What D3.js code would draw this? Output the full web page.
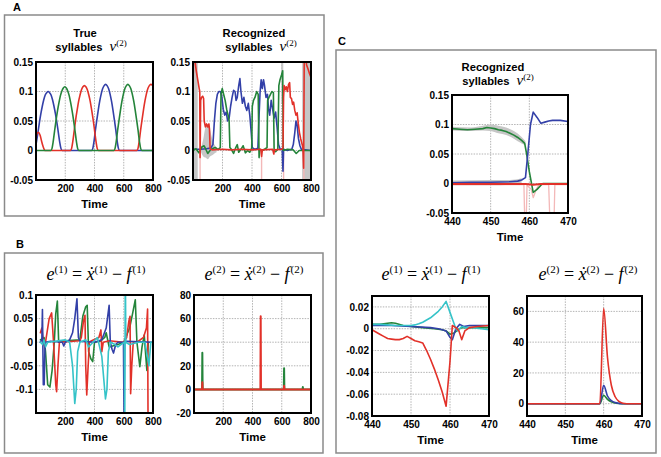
<!DOCTYPE html>
<html><head><meta charset="utf-8">
<script src="https://cdn.jsdelivr.net/npm/d3@7"></script>
<style>body{margin:0;background:#fff}svg{display:block}</style>
</head><body>
<script>
// ---------- DATA ----------
// Panel A, left: true syllables v(2)  [time, value]
const a1Blue = [[0,0.01],[13,0.03],[23,0.047],[33,0.062],[43,0.075],[53,0.086],[63,0.094],[73,0.098],[83,0.1],[93,0.098],[103,0.094],[113,0.086],[123,0.075],[133,0.062],[143,0.047],[153,0.03],[163,0.013],[170,0.004],[178,0],[381,0],[389,0.004],[396,0.014],[406,0.034],[416,0.052],[426,0.069],[436,0.084],[446,0.096],[456,0.105],[466,0.11],[476,0.112],[486,0.11],[496,0.105],[506,0.096],[516,0.084],[526,0.069],[536,0.052],[546,0.034],[556,0.014],[563,0.004],[571,0],[800,0]];
const a1Green = [[0,0],[102,0],[110,0.004],[117,0.014],[127,0.033],[137,0.051],[147,0.067],[157,0.081],[167,0.093],[177,0.101],[187,0.106],[197,0.108],[207,0.106],[217,0.101],[227,0.093],[237,0.081],[247,0.067],[257,0.051],[267,0.033],[277,0.014],[284,0.004],[292,0],[533,0],[541,0.004],[548,0.014],[558,0.034],[568,0.052],[578,0.069],[588,0.084],[598,0.096],[608,0.105],[618,0.11],[628,0.112],[638,0.11],[648,0.105],[658,0.096],[668,0.084],[678,0.069],[688,0.052],[698,0.034],[708,0.014],[715,0.004],[723,0],[800,0]];
const a1Red = [[0,0.023],[8,0.029],[18,0.031],[28,0.026],[38,0.016],[48,0.007],[58,0.001],[65,0],[236,0],[244,0.004],[251,0.014],[261,0.033],[271,0.052],[281,0.068],[291,0.083],[301,0.094],[311,0.103],[321,0.108],[331,0.11],[341,0.108],[351,0.103],[361,0.094],[371,0.083],[381,0.068],[391,0.052],[401,0.033],[411,0.014],[418,0.004],[426,0],[690,0],[698,0.004],[705,0.014],[715,0.034],[725,0.052],[735,0.069],[745,0.084],[755,0.096],[765,0.105],[775,0.11],[785,0.112],[795,0.111],[800,0.11]];

// Panel A, right: recognized syllables v(2)
const a2Red = [[0,0.088],[3,0.16],[12,0.155],[22,0.135],[32,0.12],[42,0.105],[46,0.1],[48,-0.012],[52,0.085],[58,0.09],[66,0.092],[72,0.088],[76,0.05],[84,0.04],[92,0.045],[100,0.04],[108,0.045],[112,0.035],[116,0.003],[130,0.001],[200,0.002],[260,0.001],[330,0.002],[400,0.001],[460,0.002],[465,-0.01],[470,0.001],[540,0.002],[548,-0.006],[552,0.001],[600,0.002],[610,0.004],[614,0.09],[618,0.11],[625,0.103],[632,0.108],[640,0.1],[648,0.112],[655,0.115],[660,0.09],[668,0.088],[675,0.078],[682,0.082],[690,0.068],[698,0.06],[706,0.064],[714,0.045],[722,0.03],[730,0.02],[738,0.012],[745,0.005],[750,-0.03],[754,0.15],[760,0.17],[770,0.145],[780,0.138],[790,0.13],[800,0.124]];
const a2Blue = [[0,0.002],[50,0.002],[90,0.003],[120,0.004],[135,0.01],[145,0.05],[155,0.08],[165,0.095],[175,0.1],[185,0.1],[195,0.092],[205,0.07],[215,0.06],[225,0.065],[235,0.05],[245,0.055],[255,0.075],[265,0.09],[275,0.102],[285,0.1],[292,0.085],[300,0.09],[310,0.11],[318,0.122],[325,0.1],[335,0.08],[345,0.09],[355,0.075],[365,0.068],[375,0.08],[385,0.06],[395,0.03],[402,0.005],[420,0.002],[440,0.004],[448,0.06],[455,0.1],[462,0.12],[470,0.105],[478,0.12],[485,0.11],[495,0.09],[505,0.095],[512,0.07],[520,0.06],[530,0.085],[540,0.07],[550,0.055],[560,0.065],[570,0.04],[580,0.01],[590,0.003],[605,0.002],[610,-0.035],[614,0.002],[640,0],[670,0.002],[680,0.01],[690,0.03],[698,0.05],[705,0.045],[715,0.02],[725,0.008],[735,0.002],[800,0]];
const a2Green = [[0,0],[20,0.003],[40,-0.004],[60,0.006],[75,0.008],[85,0.003],[100,-0.005],[115,0],[130,0.003],[150,0.005],[170,0.002],[185,0.005],[190,0.095],[198,0.105],[208,0.095],[218,0.085],[228,0.07],[238,0.06],[245,0.05],[250,0.005],[260,0.002],[275,-0.005],[290,0.005],[300,0.01],[310,-0.003],[325,0.002],[340,0.008],[355,-0.004],[370,0],[385,-0.003],[398,0.004],[402,0.075],[410,0.085],[420,0.09],[432,0.1],[442,0.095],[448,-0.012],[452,0.002],[470,0],[490,0.003],[502,0.005],[506,0.085],[515,0.09],[525,0.095],[535,0.1],[545,0.098],[550,0],[560,-0.002],[575,0.002],[582,0.11],[590,0.12],[600,0.128],[608,0.135],[612,0],[640,0.002],[680,0.001],[700,-0.005],[720,0],[800,0]];
const a2PinkSpikes = [48, 465, 614, 752];
// confidence bands [time, low, high]
const a2BandLeft = [[0,-0.05,0.15],[32,-0.05,0.15]];
const a2BandMid = [[55,-0.003,0.005],[70,-0.01,0.02],[85,-0.012,0.04],[100,-0.015,0.045],[115,-0.01,0.035],[130,-0.008,0.02],[145,-0.005,0.01],[160,-0.003,0.005]];
const a2BandTop = [[598,0.08,0.15],[612,0.08,0.15]];
const a2BandRight = [[740,-0.05,0.15],[800,-0.05,0.15]];

// Panel B, left: e(1)
const b1Blue = [[30,0],[40,0.005],[44,0.069],[50,-0.09],[56,-0.09],[62,0],[100,0.002],[180,0],[190,-0.008],[200,0],[230,0.005],[250,0.02],[265,0.05],[280,0.092],[290,0.01],[300,0.002],[400,0],[450,0.005],[480,0.03],[500,0.078],[508,0],[520,-0.015],[530,-0.023],[545,-0.005],[560,0],[598,0],[602,-0.16],[606,0],[620,0.002],[800,0]];
const b1Green = [[30,0.005],[55,0.01],[65,-0.02],[80,-0.09],[95,-0.095],[110,-0.06],[125,0],[135,0.06],[146,0.087],[155,0],[165,0],[200,0.003],[300,0.005],[320,0.055],[340,0.075],[350,0.078],[360,-0.02],[375,-0.035],[388,-0.041],[400,0],[440,0.002],[470,0.01],[480,0.02],[500,-0.01],[560,-0.005],[600,0],[640,0.03],[660,0.06],[679,0.09],[690,0],[710,-0.052],[725,-0.01],[740,0.015],[758,-0.06],[768,0]];
const b1Red = [[30,0.02],[40,0.03],[50,0],[60,-0.01],[75,0.02],[90,0.05],[107,0.062],[120,0],[135,-0.09],[141,-0.105],[150,-0.05],[160,0],[300,0.003],[310,0.01],[325,0.045],[335,0.057],[340,-0.05],[347,-0.112],[355,-0.06],[365,0],[380,0.003],[430,0.01],[444,0.026],[450,-0.02],[460,0],[500,0.003],[600,0],[620,0.01],[635,0.045],[643,0.055],[647,-0.109],[655,-0.05],[665,0],[700,0.002],[735,0.01],[755,0.03],[763,0.07],[766,-0.16]];
const b1Cyan = [[30,0],[45,-0.005],[55,0.005],[65,-0.01],[80,0],[200,0.005],[230,0],[250,-0.05],[265,-0.13],[275,-0.1],[285,-0.02],[300,0],[340,0.005],[360,-0.01],[420,0.01],[450,-0.03],[475,-0.12],[485,-0.1],[495,-0.02],[510,0],[540,-0.005],[560,-0.01],[604,0],[607,-0.16],[611,0.16],[614,0],[640,-0.005],[700,0],[745,0],[772,-0.05],[785,0],[800,0]];

// Panel B, right: e(2)
const b2Green = [[0,0],[55,0],[57,31],[59,0],[614,0],[616,18],[618,0],[742,0],[744,2],[746,0],[800,0]];
const b2Red = [[0,0],[55,0],[57,6],[59,0],[454,0],[456,62],[458,0],[614,0],[616,3],[618,0],[800,0]];

// Panel C, top: recognized syllables (zoom 440-470)
const c1Green = [[440,0.093],[442,0.092],[444,0.091],[446,0.092],[448,0.093],[449,0.095],[450,0.094],[451,0.093],[452,0.091],[453,0.09],[454,0.088],[455,0.085],[456,0.082],[457,0.078],[458,0.073],[458.8,0.068],[459.3,0.05],[460,0.02],[461,-0.015],[462,-0.01],[463,-0.003],[463.5,0],[470,0]];
const c1Blue = [[440,0.001],[445,0.002],[450,0.002],[455,0.003],[457,0.004],[458,0.006],[459,0.01],[459.6,0.05],[460.3,0.1],[461,0.121],[462,0.112],[463,0.102],[464,0.104],[465,0.106],[466,0.107],[468,0.107],[470,0.105]];
const c1Red = [[440,-0.001],[450,-0.001],[459,-0.001],[461,-0.002],[463,-0.001],[470,-0.001]];
const c1Pink = [[440,-0.002],[458.6,-0.002],[458.8,-0.06],[459.2,-0.06],[459.4,-0.003],[460.5,-0.01],[461,-0.024],[461.8,-0.01],[462.5,-0.002],[465,-0.002],[465.3,-0.06],[466.4,-0.06],[466.6,-0.002],[470,-0.002]];
const c1GreenBand = [[440,0.09,0.096],[445,0.089,0.095],[448,0.09,0.098],[450,0.089,0.1],[452,0.085,0.098],[454,0.082,0.095],[456,0.076,0.089],[458,0.068,0.079],[459,0.065,0.072]];
const c1BlueBand = [[440,-0.003,0.005],[450,-0.003,0.006],[455,-0.002,0.006],[458,0.001,0.009]];

// Panel C, bottom left: e(1)
const c2Cyan = [[440,0.004],[442,0.004],[444,0.0035],[446,0.003],[448,0.003],[450,0.003],[451,0.0035],[452,0.0045],[453,0.006],[454,0.008],[455,0.01],[456,0.013],[457,0.016],[458,0.02],[459,0.025],[460,0.015],[461,0.005],[461.5,0],[462,-0.002],[463,0.002],[464,0.001],[466,0.001],[468,0],[470,-0.001]];
const c2Red = [[440,-0.001],[441,-0.003],[442,-0.005],[443,-0.007],[444,-0.009],[445,-0.0095],[446,-0.01],[447,-0.01],[448,-0.009],[449,-0.007],[450,-0.009],[451,-0.011],[452,-0.012],[453,-0.013],[454,-0.02],[455,-0.028],[456,-0.037],[457,-0.047],[458,-0.058],[459,-0.071],[460,-0.03],[460.6,0.003],[461.5,0.001],[462.3,-0.002],[463,-0.01],[463.8,-0.002],[465,0.001],[467,0.002],[470,0.003]];
const c2Blue = [[440,0.003],[445,0.003],[450,0.002],[455,0.001],[457,0],[458,-0.001],[459,-0.002],[460,-0.008],[460.6,-0.01],[461.5,0],[462.5,0.004],[463.5,0.002],[465,0.003],[470,0.003]];
const c2Green = [[440,0.004],[442,0.004],[444,0.005],[445,0.0055],[446,0.005],[448,0.003],[450,0.002],[453,0.001],[456,0],[458,-0.001],[459,-0.002],[460,-0.005],[461,-0.004],[462,-0.001],[463,0.001],[465,0.001],[470,0.001]];

// Panel C, bottom right: e(2)
const c3Red = [[440,0],[459,0],[460,62],[461,30],[462,12],[463,4.5],[464,1.5],[465,0.3],[466,0],[470,0]];
const c3Blue = [[440,0],[459,0],[460,12],[461,5],[462,2],[463,0.7],[464,0.2],[465,0],[470,0]];
const c3Green = [[440,0],[459,0],[460,5.5],[461,2.8],[462,1.2],[463,0.4],[464,0.1],[465,0],[470,0]];

// ticks
const ticksLong = [200, 400, 600, 800];
const ticksZoom = [440, 450, 460, 470];
const ticksV = [-0.05, 0, 0.05, 0.1, 0.15];
const ticksE1 = [-0.1, -0.05, 0, 0.05, 0.1];
const ticksE2 = [-20, 0, 20, 40, 60, 80];
const ticksE1zoom = [-0.08, -0.06, -0.04, -0.02, 0, 0.02];
const ticksE2zoom = [0, 20, 40, 60];

// ---------- DRAWING ----------
const COL = {blue:"#3340a8", green:"#24843a", red:"#e23129", cyan:"#35c3c8", pink:"#f3b8b8", grey:"#c6c6c6"};
const SANS = "'Liberation Sans', Arial, Helvetica, sans-serif";
const SERIF = "'Liberation Serif', 'Times New Roman', 'DejaVu Serif', serif";
const svg = d3.select("body").append("svg").attr("width", 661).attr("height", 457);

// panel boxes
[[4.5,15,319.5,201],[4.5,253,318.5,200],[336,50,320,403]].forEach(b => {
  svg.append("rect").attr("x", b[0]).attr("y", b[1]).attr("width", b[2]).attr("height", b[3])
    .attr("fill", "none").attr("stroke", "#8a8a8a").attr("stroke-width", 1.5);
});
[["A",13,11],["B",16,248],["C",338,45]].forEach(l => {
  svg.append("text").attr("x", l[1]).attr("y", l[2]).text(l[0])
    .attr("font-family", SANS).attr("font-weight", "bold").attr("font-size", 11);
});

let clipN = 0;
const fmtNum = d => (d === 0 ? "0" : String(+d.toFixed(3)));

function plot(o) {
  const x = d3.scaleLinear().domain(o.xd).range([o.l, o.l + o.w]);
  const y = d3.scaleLinear().domain(o.yd).range([o.t + o.h, o.t]);
  const id = "clip" + (clipN++);
  svg.append("clipPath").attr("id", id).append("rect")
    .attr("x", o.l).attr("y", o.t).attr("width", o.w).attr("height", o.h);
  const g = svg.append("g");
  // grid
  g.selectAll(null).data(o.xt).join("line")
    .attr("x1", d => x(d)).attr("x2", d => x(d)).attr("y1", o.t).attr("y2", o.t + o.h)
    .attr("stroke", "#b4b4b4").attr("stroke-width", 1).attr("stroke-dasharray", "1.5,1.2");
  g.selectAll(null).data(o.yt).join("line")
    .attr("y1", d => y(d)).attr("y2", d => y(d)).attr("x1", o.l).attr("x2", o.l + o.w)
    .attr("stroke", "#b4b4b4").attr("stroke-width", 1).attr("stroke-dasharray", "1.5,1.2");
  const pg = g.append("g").attr("clip-path", `url(#${id})`);
  (o.bands || []).forEach(b => {
    pg.append("path").datum(b.data)
      .attr("d", d3.area().x(d => x(d[0])).y0(d => y(d[1])).y1(d => y(d[2])).curve(d3.curveMonotoneX))
      .attr("fill", b.color || COL.grey).attr("stroke", "none");
  });
  (o.spikes || []).forEach(s => {
    pg.selectAll(null).data(s.data).join("line")
      .attr("x1", d => x(d)).attr("x2", d => x(d)).attr("y1", y(s.from)).attr("y2", y(s.to))
      .attr("stroke", s.color).attr("stroke-width", 1.4);
  });
  (o.series || []).forEach(s => {
    pg.append("path").datum(s.data)
      .attr("d", d3.line().x(d => x(d[0])).y(d => y(d[1])).curve(s.curve || d3.curveLinear))
      .attr("fill", "none").attr("stroke", s.color).attr("stroke-width", s.sw || 1.6)
      .attr("stroke-linejoin", "round").attr("stroke-linecap", "round");
  });
  // frame
  g.append("rect").attr("x", o.l).attr("y", o.t).attr("width", o.w).attr("height", o.h)
    .attr("fill", "none").attr("stroke", "#000").attr("stroke-width", 2);
  // axes labels
  const ax = g.append("g").attr("transform", `translate(0,${o.t + o.h})`)
    .call(d3.axisBottom(x).tickValues(o.xt).tickSize(0).tickPadding(5).tickFormat(d3.format("d")));
  const ay = g.append("g").attr("transform", `translate(${o.l},0)`)
    .call(d3.axisLeft(y).tickValues(o.yt).tickSize(0).tickPadding(3).tickFormat(fmtNum));
  [ax, ay].forEach(a => {
    a.select(".domain").remove();
    a.selectAll("text").attr("font-family", SANS).attr("font-weight", "bold").attr("font-size", 10).attr("fill", "#000");
  });
  g.append("text").attr("x", o.l + o.w / 2).attr("y", o.t + o.h + 28).attr("text-anchor", "middle")
    .attr("font-family", SANS).attr("font-weight", "bold").attr("font-size", 11.5).text("Time");
}

function titleV(first, cx1, cx2, y1) {
  svg.append("text").attr("x", cx1).attr("y", y1).attr("text-anchor", "middle")
    .attr("font-family", SANS).attr("font-weight", "bold").attr("font-size", 11.2).text(first);
  const t = svg.append("text").attr("x", cx2).attr("y", y1 + 14).attr("text-anchor", "middle");
  t.append("tspan").attr("font-family", SANS).attr("font-weight", "bold").attr("font-size", 11.2).text("syllables");
  t.append("tspan").attr("dx", 7).attr("font-family", SERIF).attr("font-style", "italic").attr("font-size", 15).text("ν");
  t.append("tspan").attr("dy", -5).attr("font-family", SERIF).attr("font-size", 9).text("(2)");
}

function titleE(k, cx, y0) {
  const t = svg.append("text").attr("x", cx).attr("y", y0).attr("text-anchor", "middle")
    .attr("font-family", SERIF).attr("font-size", 18);
  const sup = "(" + k + ")";
  t.append("tspan").attr("font-style", "italic").text("e");
  t.append("tspan").attr("font-size", 11).attr("dy", -7).text(sup);
  t.append("tspan").attr("dy", 7).text(" = ");
  t.append("tspan").attr("font-style", "italic").text("\u1E8B");
  t.append("tspan").attr("font-size", 11).attr("dy", -7).text(sup);
  t.append("tspan").attr("dy", 7).text(" \u2212 ");
  t.append("tspan").attr("font-style", "italic").text("f");
  t.append("tspan").attr("font-size", 11).attr("dy", -7).attr("dx", 1).text(sup);
}

// Panel A
titleV("True", 85, 91, 37);
titleV("Recognized", 254, 261, 37);
plot({l: 36, t: 62, w: 117, h: 118, xd: [0, 800], yd: [-0.05, 0.15], xt: ticksLong, yt: ticksV,
  series: [
    {data: a1Blue, color: COL.blue, curve: d3.curveMonotoneX},
    {data: a1Red, color: COL.red, curve: d3.curveMonotoneX},
    {data: a1Green, color: COL.green, curve: d3.curveMonotoneX}]});
plot({l: 193, t: 62, w: 118, h: 118, xd: [0, 800], yd: [-0.05, 0.15], xt: ticksLong, yt: ticksV,
  bands: [{data: a2BandLeft}, {data: a2BandMid}, {data: a2BandTop}, {data: a2BandRight}],
  spikes: [{data: a2PinkSpikes, from: 0, to: -0.06, color: COL.pink}],
  series: [
    {data: a2Blue, color: COL.blue},
    {data: a2Green, color: COL.green},
    {data: a2Red, color: COL.red}]});

// Panel B
titleE(1, 96, 280);
titleE(2, 254, 280);
plot({l: 36, t: 295, w: 117, h: 118, xd: [0, 800], yd: [-0.15, 0.1], xt: ticksLong, yt: ticksE1,
  series: [
    {data: b1Green, color: COL.green},
    {data: b1Red, color: COL.red},
    {data: b1Blue, color: COL.blue},
    {data: b1Cyan, color: COL.cyan}]});
plot({l: 194, t: 295, w: 117, h: 118, xd: [0, 800], yd: [-20, 80], xt: ticksLong, yt: ticksE2,
  series: [
    {data: b2Green, color: COL.green, sw: 2},
    {data: b2Red, color: COL.red, sw: 2}]});

// Panel C
titleV("Recognized", 493, 498, 71);
plot({l: 452, t: 95, w: 116, h: 118, xd: [440, 470], yd: [-0.05, 0.15], xt: ticksZoom, yt: ticksV,
  bands: [{data: c1GreenBand}, {data: c1BlueBand}],
  series: [
    {data: c1Pink, color: COL.pink, sw: 1.3},
    {data: c1Green, color: COL.green},
    {data: c1Blue, color: COL.blue},
    {data: c1Red, color: COL.red, sw: 2}]});
titleE(1, 431, 280);
titleE(2, 588, 280);
plot({l: 372, t: 296, w: 117, h: 120, xd: [440, 470], yd: [-0.08, 0.03], xt: ticksZoom, yt: ticksE1zoom,
  series: [
    {data: c2Green, color: COL.green},
    {data: c2Blue, color: COL.blue},
    {data: c2Cyan, color: COL.cyan},
    {data: c2Red, color: COL.red}]});
plot({l: 527, t: 296, w: 115, h: 120, xd: [440, 470], yd: [-8, 70], xt: ticksZoom, yt: ticksE2zoom,
  series: [
    {data: c3Green, color: COL.green, curve: d3.curveMonotoneX},
    {data: c3Blue, color: COL.blue, curve: d3.curveMonotoneX},
    {data: c3Red, color: COL.red, curve: d3.curveMonotoneX}]});
</script>
</body></html>
